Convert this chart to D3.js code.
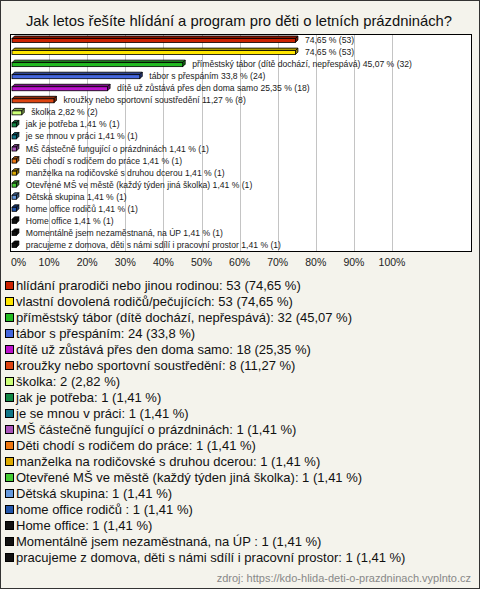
<!DOCTYPE html>
<html><head><meta charset="utf-8">
<script src="https://cdn.jsdelivr.net/npm/d3@7"></script>
<style>
html,body{margin:0;padding:0;background:#fff;}
svg{display:block;}
</style></head>
<body>
<script>
const title = "Jak letos řešíte hlídání a program pro děti o letních prázdninách?";
const categories = [
  "hlídání prarodiči nebo jinou rodinou",
  "vlastní dovolená rodičů/pečujících",
  "příměstský tábor (dítě dochází, nepřespává)",
  "tábor s přespáním",
  "dítě už zůstává přes den doma samo",
  "kroužky nebo sportovní soustředění",
  "školka",
  "jak je potřeba",
  "je se mnou v práci",
  "MŠ částečně fungující o prázdninách",
  "Děti chodí s rodičem do práce",
  "manželka na rodičovské s druhou dcerou",
  "Otevřené MŠ ve městě (každý týden jiná školka)",
  "Dětská skupina",
  "home office rodičů ",
  "Home office",
  "Momentálně jsem nezaměstnaná, na ÚP ",
  "pracujeme z domova, děti s námi sdílí i pracovní prostor"
];
const counts = [53,53,32,24,18,8,2,1,1,1,1,1,1,1,1,1,1,1];
const percents = [74.65,74.65,45.07,33.8,25.35,11.27,2.82,1.41,1.41,1.41,1.41,1.41,1.41,1.41,1.41,1.41,1.41,1.41];
const colors = ["#cc2200","#ffe600","#22bb22","#4466dd","#bb11cc","#dd4411","#ccff77","#118844","#117788","#aa55bb","#ee7711","#ddaa00","#44cc33","#6699dd","#2255aa","#111111","#111111","#111111"];
const tickValues = [0,10,20,30,40,50,60,70,80,90,100];
const source = "zdroj: https://kdo-hlida-deti-o-prazdninach.vyplnto.cz";

const W = 480, H = 589;
const fmt = v => String(v).replace(".", ",");
const svg = d3.select("body").append("svg").attr("width", W).attr("height", H);

svg.append("rect").attr("x",0.5).attr("y",0.5).attr("width",W-1).attr("height",H-1)
  .attr("fill","#f4f3ec").attr("stroke","#333");

svg.append("text").attr("x",239).attr("y",26).attr("text-anchor","middle")
  .attr("font-family","Liberation Sans, Arial, sans-serif").attr("font-size",14.8)
  .attr("fill","#111").text(title);

const plot = {x0:10, x1:471, y0:34, y1:251};
const x = d3.scaleLinear().domain([0,100]).range([11,392]);
const y = d3.scaleBand().domain(d3.range(categories.length)).range([plot.y0, plot.y1]);

svg.append("rect").attr("x",plot.x0+0.5).attr("y",plot.y0+0.5)
  .attr("width",plot.x1-plot.x0).attr("height",plot.y1-plot.y0).attr("fill","#fff");

svg.append("g").selectAll("line").data(tickValues.filter(t=>t>0)).join("line")
  .attr("x1",d=>Math.round(x(d))+0.5).attr("x2",d=>Math.round(x(d))+0.5)
  .attr("y1",plot.y0).attr("y2",plot.y1).attr("stroke","#c4c4c4").attr("stroke-width",1);

svg.append("rect").attr("x",plot.x0+0.5).attr("y",plot.y0+0.5)
  .attr("width",plot.x1-plot.x0).attr("height",plot.y1-plot.y0).attr("fill","none").attr("stroke","#000");

const dep = 2.5;
const bars = svg.append("g").selectAll("g").data(categories).join("g");
bars.each(function(d,i){
  const g = d3.select(this);
  const c = y(i) + y.bandwidth()/2;
  const xa = x(0)+1, xb = x(percents[i]);
  const top = c-1.5, bot = c+2.5;
  const col = d3.color(colors[i]);
  g.append("path").attr("d",`M${xa},${top}L${xa+dep},${top-dep}L${xb+dep},${top-dep}L${xb},${top}Z`)
    .attr("fill",col.darker(1.2)).attr("stroke","#000").attr("stroke-width",0.8);
  g.append("path").attr("d",`M${xb},${top}L${xb+dep},${top-dep}L${xb+dep},${bot-dep}L${xb},${bot}Z`)
    .attr("fill",col.darker(1.5)).attr("stroke","#000").attr("stroke-width",0.8);
  g.append("rect").attr("x",xa).attr("y",top).attr("width",xb-xa).attr("height",bot-top)
    .attr("fill",colors[i]).attr("stroke","#000").attr("stroke-width",0.8);
  const lbl = (i<2 ? "" : categories[i] + " ") + fmt(percents[i]) + " % (" + counts[i] + ")";
  g.append("text").attr("x",xb+dep+7).attr("y",c+3)
    .attr("font-family","Liberation Sans, Arial, sans-serif").attr("font-size",8.6)
    .attr("fill","#1a1a1a").text(lbl);
});

svg.append("g").selectAll("text").data(tickValues).join("text")
  .attr("x",d=> d===0 ? 11 : x(d)).attr("y",266)
  .attr("text-anchor",d=> d===0 ? "start" : "middle")
  .attr("font-family","Liberation Sans, Arial, sans-serif").attr("font-size",10.5)
  .attr("fill","#222").text(d=>d+"%");

const leg = svg.append("g").selectAll("g").data(categories).join("g")
  .attr("transform",(d,i)=>`translate(0,${290 + i*16})`);
leg.append("rect").attr("x",5.5).attr("y",-8.5).attr("width",8).attr("height",8)
  .attr("fill",(d,i)=>colors[i]).attr("stroke","#000");
leg.append("text").attr("x",16).attr("y",0)
  .attr("font-family","Liberation Sans, Arial, sans-serif").attr("font-size",13)
  .attr("fill","#111").text((d,i)=>`${d}: ${counts[i]} (${fmt(percents[i])} %)`);

svg.append("text").attr("x",471).attr("y",582).attr("text-anchor","end")
  .attr("font-family","Liberation Sans, Arial, sans-serif").attr("font-size",11)
  .attr("fill","#888").text(source);
</script>
</body></html>
